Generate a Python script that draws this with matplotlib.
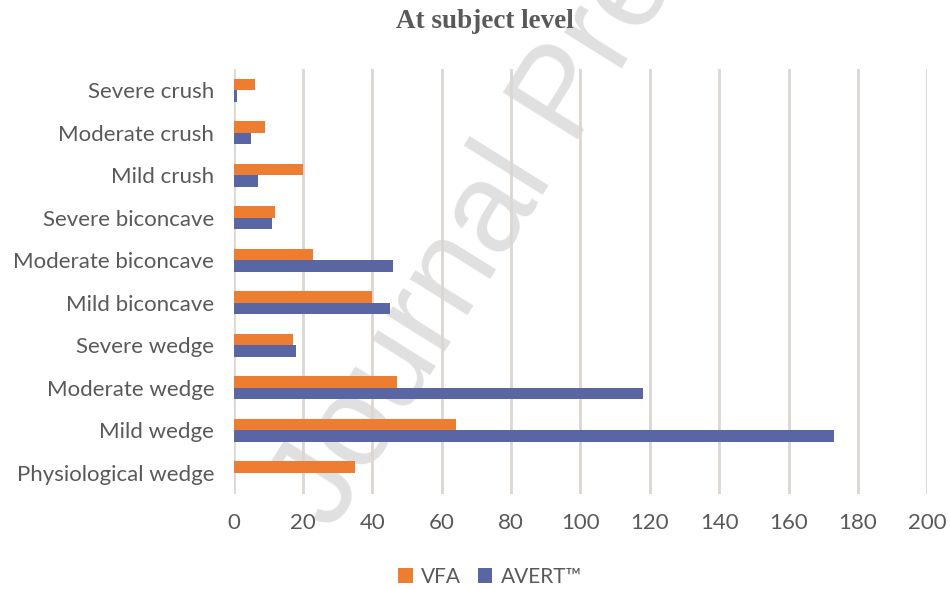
import matplotlib.pyplot as plt
import numpy as np

# categories listed bottom to top
categories = ["Physiological wedge", "Mild wedge", "Moderate wedge", "Severe wedge",
              "Mild biconcave", "Moderate biconcave", "Severe biconcave",
              "Mild crush", "Moderate crush", "Severe crush"]
vfa = [35, 64, 47, 17, 40, 23, 12, 20, 9, 6]
avert = [0, 173, 118, 18, 45, 46, 11, 7, 5, 1]
xticks = [0, 20, 40, 60, 80, 100, 120, 140, 160, 180, 200]

orange = "#ED7D31"
blue = "#5A66A3"
grey_txt = "#595959"

fig = plt.figure(figsize=(9.5, 5.9), dpi=100)
ax = fig.add_axes([0.246, 0.163, 0.73, 0.72])

y = np.arange(len(categories))
h = 0.27
ax.barh(y + h / 2, vfa, height=h, color=orange, label="VFA", zorder=3)
ax.barh(y - h / 2, avert, height=h, color=blue, label="AVERT\u2122", zorder=3)

ax.set_xlim(0, 200)
ax.set_ylim(-0.5, len(categories) - 0.5)
ax.set_xticks(xticks)
ax.set_yticks(y)
ax.set_yticklabels(categories)
ax.xaxis.grid(True, color="#dcd6d2", linewidth=2)
ax.set_axisbelow(True)
for s in ax.spines.values():
    s.set_visible(False)
ax.tick_params(axis="y", length=0, labelsize=16, labelcolor=grey_txt, pad=14)
ax.tick_params(axis="x", length=0, labelsize=16, labelcolor=grey_txt, pad=14)
for lab in ax.get_xticklabels() + ax.get_yticklabels():
    lab.set_family("Lato")

fig.text(485 / 950, 1 - 22 / 590, "At subject level", ha="center", va="center",
         fontsize=19.5, fontweight="bold", family="Liberation Serif", color=grey_txt)

# faint watermark, behind the gridlines
ax.text(332 / 950, 1 - 533 / 590, "Journal Pre-proof", transform=fig.transFigure,
        rotation=58, rotation_mode="anchor", ha="left", va="baseline", fontsize=92,
        color="#e0e0e0", family="Liberation Sans", zorder=0.2, clip_on=False)

leg = fig.legend(loc="center", bbox_to_anchor=(490 / 950, 1 - 577 / 590), ncol=2,
                 frameon=False, handlelength=0.7, handleheight=0.7, columnspacing=0.8,
                 handletextpad=0.4, prop={"family": "Lato", "size": 15})
for t in leg.get_texts():
    t.set_color(grey_txt)

fig.savefig("out.png", dpi=100)
